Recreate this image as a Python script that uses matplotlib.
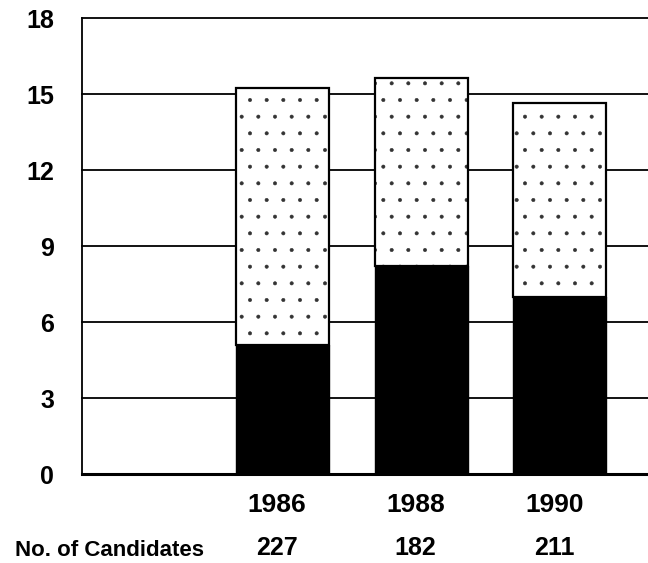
import matplotlib
matplotlib.use("Agg")
import matplotlib.pyplot as plt
import matplotlib.transforms as mtransforms

# data
years = ["1986", "1988", "1990"]
candidates = ["227", "182", "211"]
lower = [5.1, 8.2, 7.0]      # dark segment
total = [15.25, 15.65, 14.65]  # top of the stacked bar
yticks = [0, 3, 6, 9, 12, 15, 18]

upper = [t - l for t, l in zip(total, lower)]

plt.rcParams["font.family"] = ["Liberation Sans", "DejaVu Sans"]
plt.rcParams["font.weight"] = "bold"
plt.rcParams["hatch.linewidth"] = 0.4

fig = plt.figure(figsize=(6.48, 5.63), dpi=100)
ax = fig.add_axes([82 / 648, 1 - 474 / 563, 1 - 82 / 648, 456 / 563])

x = list(range(len(years)))
w = 0.67

# grid lines behind bars
for t in yticks[1:]:
    ax.axhline(t, color="black", lw=1.3, zorder=1, clip_on=False)
ax.axhline(0, color="black", lw=2.2, zorder=4, clip_on=False)

ax.bar(x, lower, width=w, color="black", edgecolor="black", lw=1.0, zorder=2)
# speckled upper part
ax.bar(x, upper, bottom=lower, width=w, color="white", edgecolor="#333333",
       hatch=".", lw=0, zorder=2)
ax.bar(x, upper, bottom=lower, width=w, fill=False, edgecolor="black",
       lw=1.6, zorder=3)

ax.set_xlim(-1.445, 2.635)
ax.set_ylim(0, 18)
ax.set_yticks(yticks)
ax.set_yticklabels([str(t) for t in yticks], fontsize=18, fontweight="bold")
ax.tick_params(axis="y", length=0, pad=20)
ax.set_xticks([])

for side in ["top", "right", "bottom"]:
    ax.spines[side].set_visible(False)
ax.spines["left"].set_linewidth(1.3)

trans = mtransforms.blended_transform_factory(ax.transData, fig.transFigure)
for i in x:
    ax.text(i - 0.04, 1 - 512 / 563, years[i], transform=trans, ha="center",
            va="baseline", fontsize=19, fontweight="bold")
    ax.text(i - 0.04, 1 - 555 / 563, candidates[i], transform=trans,
            ha="center", va="baseline", fontsize=18, fontweight="bold")
fig.text(15 / 648, 1 - 556 / 563, "No. of Candidates", ha="left",
         va="baseline", fontsize=16, fontweight="bold")

fig.savefig("out.png", dpi=100)
